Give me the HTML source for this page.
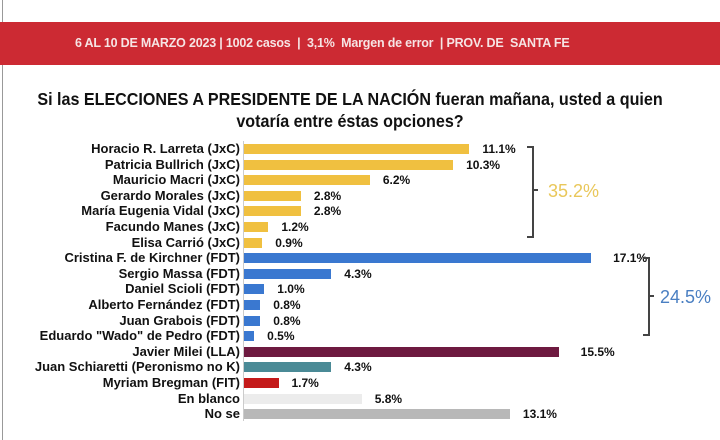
<!DOCTYPE html>
<html><head><meta charset="utf-8"><style>
body{margin:0;width:720px;height:440px;background:#fff;position:relative;overflow:hidden;font-family:"Liberation Sans",Arial,sans-serif;}
.banner{position:absolute;left:0;top:22px;width:720px;height:43px;background:#cc2a33;color:#f6e4e4;font-size:12.5px;font-weight:bold;line-height:43px;}
.banner span{position:absolute;left:75px;letter-spacing:-0.2px;}
.title{position:absolute;left:-10px;width:720px;text-align:center;font-size:17.5px;font-weight:bold;color:#111;transform:scaleX(0.92);}
.lbl{position:absolute;right:480px;font-size:13px;font-weight:bold;color:#111;white-space:nowrap;line-height:14px;}
.bar{position:absolute;left:244px;height:10px;}
.val{position:absolute;font-size:12px;font-weight:bold;color:#111;line-height:14px;}
.ax{position:absolute;left:243px;top:141px;width:1px;height:280px;background:#ccc;}
.lb{position:absolute;left:2px;top:0;width:1px;height:440px;background:#999;}
</style></head><body>
<div class="lb"></div>
<div class="banner"><span>6 AL 10 DE MARZO 2023 | 1002 casos &nbsp;| &nbsp;3,1% &nbsp;Margen de error &nbsp;| PROV. DE &nbsp;SANTA FE</span></div>
<div class="title" style="top:89px">Si las ELECCIONES A PRESIDENTE DE LA NACIÓN fueran mañana, usted a quien</div>
<div class="title" style="top:111px">votaría entre éstas opciones?</div>
<div class="ax"></div>
<div id="c"></div>
<svg style="position:absolute;left:0;top:0" width="720" height="440">
<path d="M527 147 H533 V237 H527 M533 190 H538" stroke="#444" stroke-width="2" fill="none"/>
<text x="548" y="197" font-family="Liberation Sans,Arial,sans-serif" font-size="18" fill="#e9c75a">35.2%</text>
<path d="M643 258 H649 V335 H643 M649 296 H654" stroke="#444" stroke-width="2" fill="none"/>
<text x="660" y="303" font-family="Liberation Sans,Arial,sans-serif" font-size="18" fill="#4a7fc2">24.5%</text>
</svg>
<script>
var d=[["Horacio R. Larreta (JxC)",11.1,"#f0c040"],["Patricia Bullrich (JxC)",10.3,"#f0c040"],["Mauricio Macri (JxC)",6.2,"#f0c040"],["Gerardo Morales (JxC)",2.8,"#f0c040"],["María Eugenia Vidal (JxC)",2.8,"#f0c040"],["Facundo Manes (JxC)",1.2,"#f0c040"],["Elisa Carrió (JxC)",0.9,"#f0c040"],["Cristina F. de Kirchner (FDT)",17.1,"#3a78d0"],["Sergio Massa (FDT)",4.3,"#3a78d0"],["Daniel Scioli (FDT)",1.0,"#3a78d0"],["Alberto Fernández (FDT)",0.8,"#3a78d0"],["Juan Grabois (FDT)",0.8,"#3a78d0"],["Eduardo \"Wado\" de Pedro (FDT)",0.5,"#3a78d0"],["Javier Milei (LLA)",15.5,"#6e1a40"],["Juan Schiaretti (Peronismo no K)",4.3,"#4a8a96"],["Myriam Bregman (FIT)",1.7,"#c41a1a"],["En blanco",5.8,"#ececec"],["No se",13.1,"#b8b8b8"]];
var h="";d.forEach(function(r,i){var y=149+i*15.6;var w=r[1]*20.3;
h+='<div class="lbl" style="top:'+(y-7)+'px">'+r[0].replace(/"/g,'&quot;')+'</div>';
h+='<div class="bar" style="top:'+(y-5)+'px;width:'+w+'px;background:'+r[2]+'"></div>';
h+='<div class="val" style="top:'+(y-7)+'px;left:'+(244+w+(r[1]>15?22:13))+'px">'+r[1].toFixed(1)+'%</div>';});
document.getElementById("c").innerHTML=h;
</script>
</body></html>
